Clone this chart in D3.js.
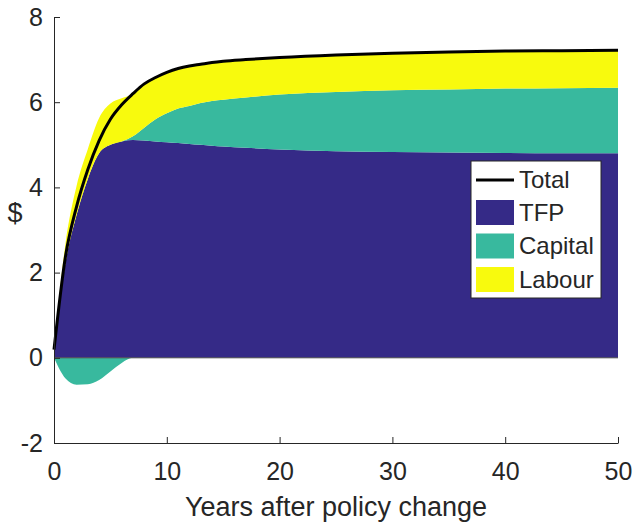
<!DOCTYPE html>
<html>
<head>
<meta charset="utf-8">
<title>Decomposition</title>
<script src="https://cdn.jsdelivr.net/npm/d3@7"></script>
<style>
  body { margin: 0; background: #fff; }
  svg text { font-family: "Liberation Sans", Arial, Helvetica, sans-serif; fill: #262626; }
</style>
</head>
<body>
<script>
// years after the policy change
var years   = [0, 1, 2, 3, 4, 5, 6, 7, 8, 9, 10, 11, 12, 13, 14, 15, 17, 20, 25, 30, 35, 40, 45, 50];
// contributions ($)
var tfp     = [0.12, 2.2, 3.35, 4.2, 4.8, 5.0, 5.08, 5.11, 5.1, 5.08, 5.06, 5.04, 5.02, 5.0, 4.98, 4.96, 4.93, 4.89, 4.85, 4.83, 4.82, 4.81, 4.8, 4.8];
var capital = [0, -0.48, -0.63, -0.62, -0.52, -0.32, -0.12, 0.09, 0.3, 0.52, 0.68, 0.81, 0.89, 0.98, 1.05, 1.1, 1.18, 1.29, 1.39, 1.45, 1.48, 1.51, 1.53, 1.54];
var labour  = [0.07, 0.45, 0.68, 0.7, 0.83, 0.97, 1.01, 1.0, 1.03, 0.98, 0.96, 0.94, 0.94, 0.91, 0.9, 0.9, 0.89, 0.87, 0.87, 0.87, 0.88, 0.88, 0.88, 0.88];
var total   = [0.19, 2.35, 3.55, 4.42, 5.1, 5.6, 5.94, 6.2, 6.43, 6.58, 6.7, 6.79, 6.85, 6.89, 6.93, 6.96, 7.0, 7.05, 7.11, 7.15, 7.18, 7.2, 7.21, 7.22];

var xTicks = [0, 10, 20, 30, 40, 50];
var yTicks = [-2, 0, 2, 4, 6, 8];
var legendNames = ["Total", "TFP", "Capital", "Labour"];

var colors = { tfp: "#352a87", capital: "#38b99e", labour: "#f8fa0d" };

var width = 634, height = 522;
var plotLeft = 54, plotRight = 618, plotTop = 17, plotBottom = 443;

var svg = d3.select("body").append("svg")
  .attr("width", width)
  .attr("height", height);

var x = d3.scaleLinear().domain([0, 50]).range([plotLeft, plotRight]);
var y = d3.scaleLinear().domain([-2, 8]).range([plotBottom, plotTop]);

// rows for the stack: positive capital sits on TFP, negative capital below zero
var rows = years.map(function(t, i) {
  return { t: t, tfp: tfp[i], capPos: Math.max(capital[i], 0), capNeg: Math.min(capital[i], 0), labour: labour[i] };
});
var stacked = d3.stack().keys(["tfp", "capPos", "labour"])(rows);

var area = d3.area()
  .curve(d3.curveMonotoneX)
  .x(function(d) { return x(d.data.t); })
  .y0(function(d) { return y(d[0]); })
  .y1(function(d) { return y(d[1]); });

svg.append("path")
  .datum(rows)
  .attr("fill", colors.capital)
  .attr("d", d3.area()
    .curve(d3.curveMonotoneX)
    .x(function(d) { return x(d.t); })
    .y0(y(0))
    .y1(function(d) { return y(d.capNeg); }));

var fills = [colors.tfp, colors.capital, colors.labour];
svg.selectAll(".layer")
  .data(stacked)
  .enter().append("path")
  .attr("class", "layer")
  .attr("fill", function(d, i) { return fills[i]; })
  .attr("d", area);

// area baseline
svg.append("line")
  .attr("x1", x(0)).attr("x2", x(50))
  .attr("y1", y(0)).attr("y2", y(0))
  .attr("stroke", "#4d4d4d")
  .attr("stroke-width", 1);

// total
svg.append("path")
  .datum(years)
  .attr("fill", "none")
  .attr("stroke", "#000")
  .attr("stroke-width", 3)
  .attr("d", d3.line()
    .curve(d3.curveMonotoneX)
    .x(function(d) { return x(d); })
    .y(function(d, i) { return y(total[i]); }));

// axes
var xAxis = svg.append("g")
  .attr("transform", "translate(0," + plotBottom + ")")
  .call(d3.axisBottom(x).tickValues(xTicks).tickSizeInner(-6).tickSizeOuter(0).tickPadding(19)
    .tickFormat(function(d) { return String(d); }));
var yAxis = svg.append("g")
  .attr("transform", "translate(" + plotLeft + ",0)")
  .call(d3.axisLeft(y).tickValues(yTicks).tickSizeInner(-6).tickSizeOuter(0).tickPadding(11)
    .tickFormat(function(d) { return String(d); }));

[xAxis, yAxis].forEach(function(g) {
  g.select(".domain").attr("stroke", "#262626");
  g.selectAll(".tick line").attr("stroke", "#262626");
  g.selectAll(".tick text").attr("font-size", 25).attr("fill", "#262626")
    .style("font-family", "'Liberation Sans', Arial, Helvetica, sans-serif");
});

svg.append("text")
  .attr("x", (plotLeft + plotRight) / 2)
  .attr("y", 516)
  .attr("text-anchor", "middle")
  .attr("font-size", 27)
  .text("Years after policy change");

svg.append("text")
  .attr("x", 15)
  .attr("y", 222)
  .attr("text-anchor", "middle")
  .attr("font-size", 27)
  .text("$");

// legend
var lg = svg.append("g").attr("transform", "translate(471,161)");
lg.append("rect")
  .attr("width", 130).attr("height", 137)
  .attr("fill", "#fff")
  .attr("stroke", "#262626")
  .attr("stroke-width", 1);

var rowY = [19, 51.5, 85, 118.5];
lg.append("line")
  .attr("x1", 5).attr("x2", 43)
  .attr("y1", rowY[0]).attr("y2", rowY[0])
  .attr("stroke", "#000").attr("stroke-width", 3);
fills.forEach(function(c, i) {
  lg.append("rect")
    .attr("x", 5).attr("y", rowY[i + 1] - 12.5)
    .attr("width", 38).attr("height", 25)
    .attr("fill", c);
});
legendNames.forEach(function(name, i) {
  lg.append("text")
    .attr("x", 48)
    .attr("y", rowY[i])
    .attr("dy", "0.35em")
    .attr("font-size", 24)
    .attr("fill", "#000")
    .text(name);
});
</script>
</body>
</html>
